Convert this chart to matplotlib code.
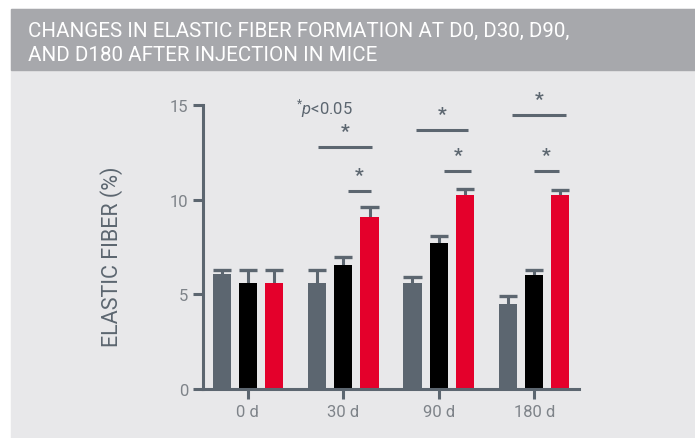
import matplotlib
matplotlib.use("Agg")
import matplotlib.pyplot as plt
from matplotlib.patches import Rectangle
import numpy as np

# ── Data ───────────────────────────────────────────────────────────────────────
days = ["0 d", "30 d", "90 d", "180 d"]
gray_vals  = [6.1, 5.6, 5.6, 4.5]
gray_err   = [0.2, 0.7, 0.3, 0.4]
black_vals = [5.6, 6.55, 7.7, 6.0]
black_err  = [0.7, 0.4, 0.4, 0.3]
red_vals   = [5.6, 9.1, 10.25, 10.25]
red_err    = [0.7, 0.5, 0.3, 0.25]

# significance bars: (group, x-start offset, x-end offset, level)
sig_group = [1, 1, 2, 2, 3, 3]
sig_x0    = [-0.26, 0.05, -0.24, 0.06, -0.23, 0.00]
sig_x1    = [0.30, 0.29, 0.31, 0.34, 0.33, 0.26]
sig_y     = [12.77, 10.48, 13.67, 11.5, 14.47, 11.5]

title_lines = ["CHANGES IN ELASTIC FIBER FORMATION AT D0, D30, D90,",
               "AND D180 AFTER INJECTION IN MICE"]

# ── Style ──────────────────────────────────────────────────────────────────────
C_GRAY  = "#5c6670"
C_BLACK = "#000000"
C_RED   = "#e4002b"
C_TICK  = "#7e8389"
C_PANEL = "#e8e8ea"
C_HEAD  = "#a7a8ac"

plt.rcParams["font.family"] = ["Roboto", "DejaVu Sans"]
plt.rcParams["mathtext.fontset"] = "custom"
plt.rcParams["mathtext.rm"] = "Roboto"
plt.rcParams["mathtext.it"] = "Roboto:italic"

W, H = 695, 439
fig = plt.figure(figsize=(W / 100, H / 100), dpi=100)
fig.patch.set_facecolor("white")

# background panel + header band (pixel coords from top-left)
def px_rect(x0, y0, x1, y1, color):
    fig.patches.append(Rectangle((x0 / W, 1 - y1 / H), (x1 - x0) / W, (y1 - y0) / H,
                                 transform=fig.transFigure, color=color, zorder=-10))

px_rect(11, 10, W, H, C_PANEL)
px_rect(11, 10, W, 71, C_HEAD)
for i, line in enumerate(title_lines):
    fig.text(28 / W, 1 - (37 + 24 * i) / H, line, color="white", fontsize=14.8,
             va="baseline", ha="left")

ax = fig.add_axes([203 / W, 1 - 390 / H, (579 - 203) / W, (390 - 106) / H])
ax.set_facecolor("none")

x = np.arange(len(days))
off, bw = 0.275, 0.19
series = [(x - off, gray_vals, gray_err, C_GRAY),
          (x, black_vals, black_err, C_BLACK),
          (x + off, red_vals, red_err, C_RED)]
for xs, vals, errs, col in series:
    ax.bar(xs, vals, bw, color=col, zorder=2)
    tops = np.array(vals) + np.array(errs)
    # upper-only error bar: stem + cap as wide as the bar
    ax.vlines(xs, vals, tops, color=C_GRAY, lw=2.2, zorder=1)
    ax.hlines(tops, xs - bw / 2, xs + bw / 2, color=C_GRAY, lw=2.4, zorder=1)

for g, a, b, y in zip(sig_group, sig_x0, sig_x1, sig_y):
    ax.plot([g + a, g + b], [y, y], color=C_GRAY, lw=2.2, solid_capstyle="butt", clip_on=False)
    ax.text(g + (a + b) / 2, y + 0.85, "*", color=C_GRAY, fontsize=14, fontweight="bold",
            ha="center", va="center", clip_on=False)

ax.text(0.50, 14.85, r"$^{*}\mathit{p}$<0.05", color=C_GRAY, fontsize=12,
        ha="left", va="center", clip_on=False)

ax.set_xlim(-0.47, 3.47)
ax.set_ylim(0, 15)
ax.set_xticks(x)
ax.set_xticklabels(days)
ax.set_yticks([0, 5, 10, 15])
for s in ("top", "right"):
    ax.spines[s].set_visible(False)
for s in ("left", "bottom"):
    ax.spines[s].set_color(C_GRAY)
    ax.spines[s].set_linewidth(2.2)
ax.tick_params(colors=C_GRAY, width=2.2, length=7, labelcolor=C_TICK, labelsize=12)
ax.tick_params(axis="x", pad=4)

ax.set_ylabel("ELASTIC FIBER (%)", color=C_GRAY, fontsize=15.5)
ax.yaxis.set_label_coords((123 - 203) / (579 - 203), (390 - 257) / (390 - 106))

fig.savefig("out.png", dpi=100)
